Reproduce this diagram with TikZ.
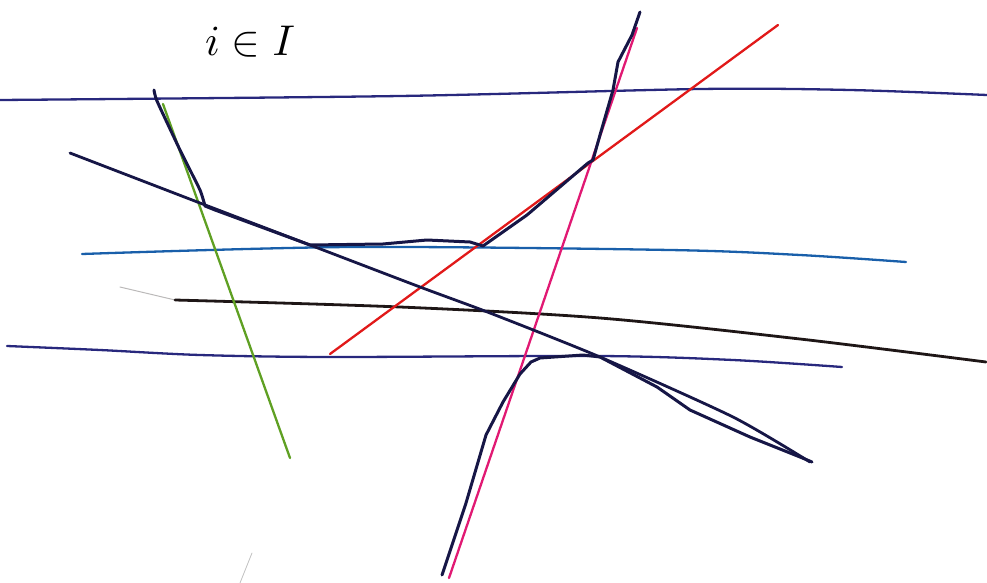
\documentclass[tikz,border=0pt]{standalone}
\usetikzlibrary{calc}
\definecolor{navyl}{RGB}{40,40,125}
\definecolor{darkn}{RGB}{22,22,70}
\definecolor{cyanb}{RGB}{25,95,170}
\definecolor{blackl}{RGB}{30,22,22}
\definecolor{greenl}{RGB}{95,160,35}
\definecolor{redl}{RGB}{225,25,25}
\definecolor{magl}{RGB}{225,25,115}
\tikzset{
  pen/.style={line width=2.3pt, line cap=round, line join=round},
  envelope/.style={pen, draw=darkn, line width=3pt},
}
\begin{document}
\begin{tikzpicture}[x=1pt,y=-1pt]
\useasboundingbox (0,0) rectangle (987,583);
% label
\node[scale=4.3, inner sep=0pt] (lbl) at (250,42) {$i\in I$};
% top navy line
\draw[pen, navyl] plot[smooth] coordinates {(0,100) (400,96) (700,89) (850,90) (987,95)};
% lower navy line
\draw[pen, navyl] plot[smooth] coordinates {(7,346) (100,350) (200,355) (330,357) (600,356) (733,360) (842,367)};
% cyan line
\draw[pen, cyanb] plot[smooth] coordinates {(82,254) (350,247) (670,250) (800,255) (906,262)};
% black line
\draw[pen, blackl!30, line width=1pt] (120,287) -- (175,300);
\draw[pen, blackl, line width=2.8pt] plot[smooth] coordinates {(175,300) (400,307) (600,318) (800,339) (986,362)};
% green line
\draw[pen, greenl] (163,104) -- (290,458);
% red line
\draw[pen, redl] (330,354) -- (778,25);
% magenta line
\draw[pen, magl] (449,578) -- (637,28);
% dark diagonal
\draw[pen, darkn, line width=2.8pt] plot[smooth, tension=0.4] coordinates {(70,153) (200,203) (310,245) (420,287) (490,313) (600,357) (733,417) (810,462)};
% upper envelope
\draw[envelope] plot[smooth, tension=0.3] coordinates {(154,90) (157,101) (180,150) (200,190) (205,206)}
  -- (215,210) -- (310,245) -- (383,244) -- (427,240) -- (470,242) -- (483,246)
  -- (527,215) -- (588,163) -- (593,160) -- (600,135) -- (613,90) -- (618,62) -- (632,35) -- (640,12);
% lower envelope
\draw[envelope] (442,575) -- (466,503) -- (486,435) -- (503,402) -- (520,374) -- (531,362)
  -- (540,358) -- (583,355) -- (600,357) -- (657,387) -- (690,410) -- (750,437) -- (800,457) -- (812,462);
% faint mark
\draw[line width=0.8pt, gray!50, line cap=round] (252,553) -- (240,583);
\end{tikzpicture}
\end{document}
